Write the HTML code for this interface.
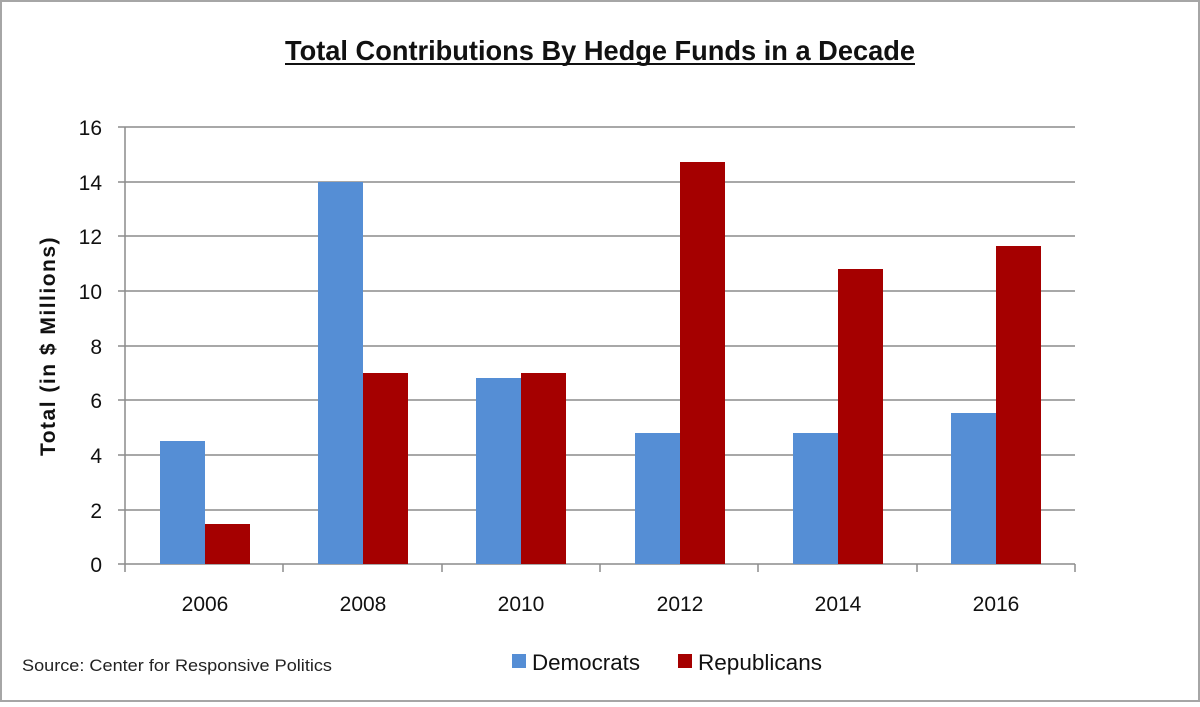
<!DOCTYPE html>
<html><head><style>body{margin:0;background:#fff}</style></head><body>
<svg width="1200" height="702" xmlns="http://www.w3.org/2000/svg" font-family="Liberation Sans, Arial, sans-serif">
<rect x="1" y="1" width="1198" height="700" fill="#fff" stroke="#a6a6a6" stroke-width="2"/>
<text x="285" y="60" font-size="28" font-weight="bold" fill="#111" textLength="630" lengthAdjust="spacingAndGlyphs">Total Contributions By Hedge Funds in a Decade</text>
<line x1="285" y1="64" x2="915" y2="64" stroke="#111" stroke-width="2"/>
<g stroke="#8c8c8c" stroke-width="1.5">
<line x1="118" y1="127" x2="1075" y2="127"/><line x1="118" y1="182" x2="1075" y2="182"/>
<line x1="118" y1="236" x2="1075" y2="236"/><line x1="118" y1="291" x2="1075" y2="291"/>
<line x1="118" y1="346" x2="1075" y2="346"/><line x1="118" y1="400" x2="1075" y2="400"/>
<line x1="118" y1="455" x2="1075" y2="455"/><line x1="118" y1="510" x2="1075" y2="510"/>
<line x1="118" y1="564" x2="1075" y2="564"/>
<line x1="125" y1="127" x2="125" y2="572"/>
<line x1="283" y1="564" x2="283" y2="572"/><line x1="442" y1="564" x2="442" y2="572"/>
<line x1="600" y1="564" x2="600" y2="572"/><line x1="758" y1="564" x2="758" y2="572"/>
<line x1="917" y1="564" x2="917" y2="572"/><line x1="1075" y1="564" x2="1075" y2="572"/>
</g>
<g font-size="21" fill="#111" text-anchor="end">
<text x="102" y="135">16</text><text x="102" y="190">14</text><text x="102" y="244">12</text>
<text x="102" y="299">10</text><text x="102" y="354">8</text><text x="102" y="408">6</text>
<text x="102" y="463">4</text><text x="102" y="518">2</text><text x="102" y="572">0</text>
</g>
<text transform="translate(55 346) rotate(-90)" text-anchor="middle" font-size="21" font-weight="bold" fill="#111" letter-spacing="1.5">Total (in $ Millions)</text>
<g fill="#558ed5">
<rect x="160" y="441" width="45" height="123"/>
<rect x="318" y="182" width="45" height="382"/>
<rect x="476" y="378" width="45" height="186"/>
<rect x="635" y="433" width="45" height="131"/>
<rect x="793" y="433" width="45" height="131"/>
<rect x="951" y="413" width="45" height="151"/>
</g>
<g fill="#a50000">
<rect x="205" y="524" width="45" height="40"/>
<rect x="363" y="373" width="45" height="191"/>
<rect x="521" y="373" width="45" height="191"/>
<rect x="680" y="162" width="45" height="402"/>
<rect x="838" y="269" width="45" height="295"/>
<rect x="996" y="246" width="45" height="318"/>
</g>
<g font-size="21" fill="#111" text-anchor="middle">
<text x="205" y="611">2006</text><text x="363" y="611">2008</text><text x="521" y="611">2010</text>
<text x="680" y="611">2012</text><text x="838" y="611">2014</text><text x="996" y="611">2016</text>
</g>
<text x="22" y="671" font-size="17" fill="#222" textLength="310" lengthAdjust="spacingAndGlyphs">Source: Center for Responsive Politics</text>
<rect x="512" y="654" width="14" height="14" fill="#558ed5"/>
<text x="532" y="670" font-size="22" fill="#111" textLength="108" lengthAdjust="spacingAndGlyphs">Democrats</text>
<rect x="678" y="654" width="14" height="14" fill="#a50000"/>
<text x="698" y="670" font-size="22" fill="#111" textLength="124" lengthAdjust="spacingAndGlyphs">Republicans</text>
</svg>
</body></html>
